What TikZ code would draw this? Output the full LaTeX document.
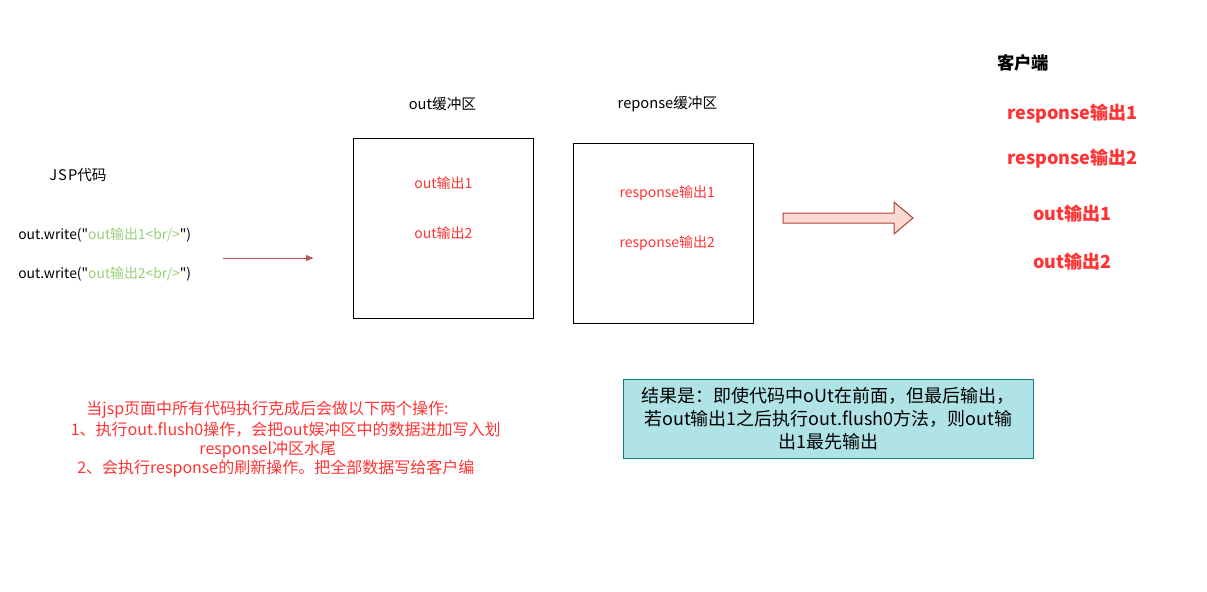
\documentclass[tikz,border=0pt]{standalone}
\usepackage{fontspec}
\setmainfont{Noto Sans CJK SC}[Ligatures=TeXOff]
\usetikzlibrary{arrows.meta, calc, positioning}
\definecolor{jspgreen}{HTML}{97D077}
\definecolor{outred}{HTML}{FF3333}
\definecolor{arrowred}{HTML}{B85450}
\definecolor{pinkfill}{HTML}{FAD9D5}
\definecolor{pinkline}{HTML}{AE4132}
\definecolor{tealfill}{HTML}{B0E3E6}
\definecolor{tealline}{HTML}{0E8088}

\begin{document}
\begin{tikzpicture}[x=0.75pt, y=-0.75pt,
	buf/.style={draw, line width=0.75pt, minimum width=135pt, minimum height=135pt},
	redtext/.style={text=outred, font=\fontsize{10.5}{12}\selectfont},
	client/.style={text=outred, font=\fontsize{13.5}{15}\selectfont\bfseries},
	note/.style={text=outred, font=\fontsize{12}{14}\selectfont, inner sep=0pt},
	code/.style={anchor=west, inner sep=0pt, font=\fontsize{10.4}{12}\selectfont}]
				\useasboundingbox (0,0) rectangle (1207,592);
				
				\node[font=\fontsize{11}{13}\selectfont] (jsp) at (78,175) {J\kern0.8pt S\kern0.8pt P代码};
				\node[code] (line1) at (18,235) {out.write("\textcolor{jspgreen}{out输出1<br/>}")};
				\node[code] (line2) at (18,274) {out.write("\textcolor{jspgreen}{out输出2<br/>}")};
				
				\coordinate (from) at (223,258);
				\coordinate (to) at (314,258);
				\draw[-{Latex[length=6pt, width=5pt]}, draw=arrowred, line width=0.75pt] (from) -- (to);
				
				\node[buf] (outbuf) at (443.3,228.3) {};
				\node[font=\fontsize{11}{13}\selectfont] (outlabel) at (442.5,104) {out缓冲区};
				\node[redtext] (out1) at ($(outbuf.north)+(0,45)$) {out输出1};
				\node[redtext] (out2) at ($(outbuf.north)+(0,95)$) {out输出2};
				
				\node[buf] (respbuf) at (663.3,233.3) {};
				\node[font=\fontsize{11}{13}\selectfont] (resplabel) at (667.5,104) {reponse缓冲区};
				\node[redtext] (resp1) at ($(respbuf.north)+(4,50)$) {response输出1};
				\node[redtext] (resp2) at ($(respbuf.north)+(4,100)$) {response输出2};
				
				% block arrow towards the client
				\draw[fill=pinkfill, draw=pinkline, line width=0.75pt] (783,213) -- (894,213) -- (894,202) -- (913,218) -- (894,234) -- (894,223) -- (783,223) -- cycle;
				
				\node[font=\fontsize{13}{15}\selectfont\bfseries] (clientlabel) at (1023,63.3) {客户端};
				\node[client] (c1) at (1072.5,113.3) {response输出1};
				\node[client] (c2) at (1072.5,158.3) {response输出2};
				\node[client] (c3) at (1072.5,213.3) {out输出1};
				\node[client] (c4) at (1072.5,262) {out输出2};
				
				\node[note] (note1) at (267.5,410) {当jsp页面中所有代码执行克成后会做以下两个操作:};
				\node[note] (note2) at (285.8,429.3) {1、执行out.flush0操作，会把out娱冲区中的数据进加写入划};
				\node[note] (note3) at (267.8,449.3) {responsel冲区水尾};
				\node[note] (note4) at (275.8,468.3) {2、会执行response的刷新操作。把全部数据写给客户编};
				
				\node[draw=tealline, fill=tealfill, line width=0.75pt, minimum width=307.5pt, minimum height=59pt, align=center, font=\fontsize{13.5}{17}\selectfont] (result) at (828.3,418.8) {结果是：即使代码中oUt在前面，但最后输出，\\若out输出1之后执行out.flush0方法，则out输\\出1最先输出};
\end{tikzpicture}
\end{document}
